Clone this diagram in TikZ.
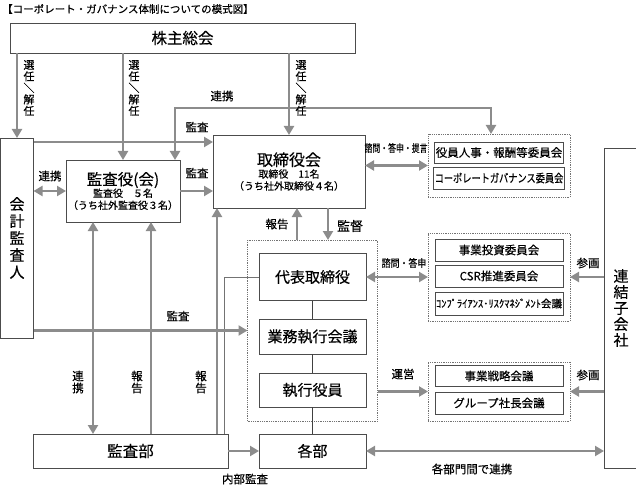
\documentclass[tikz,border=0pt]{standalone}
\usepackage{fontspec}
\usepackage{graphicx}
\setmainfont{Noto Sans CJK JP}[FakeBold=0.35]
\usetikzlibrary{arrows.meta}
\newcommand{\jfs}[2]{\fontsize{#1}{#2}\selectfont}
\newcommand{\vsl}{\rotatebox[origin=c]{90}{／}}

\begin{document}
\begin{tikzpicture}[x=1pt,y=-1pt,
   box/.style={draw=black!70,line width=.8pt,fill=white,inner sep=1pt,outer sep=0pt,align=center},
   dbox/.style={draw=black!55,densely dotted,line width=.8pt,inner sep=0pt,outer sep=0pt},
   cbox/.style={box,minimum width=128pt,font=\jfs{11.5}{12}},
   ebox/.style={box,minimum width=107pt,font=\jfs{15}{16}},
   arr/.style={draw=black!45,line width=2.2pt,-{Triangle[length=9pt,width=10pt]}},
   darr/.style={arr,{Triangle[length=9pt,width=10pt]}-{Triangle[length=9pt,width=10pt]}},
   ln/.style={draw=black!55,line width=1pt},
   lbl/.style={font=\jfs{11.5}{12},inner sep=0pt},
   vlbl/.style={lbl,align=center}]
   \useasboundingbox (0,0) rectangle (636,486);

   \node[lbl,anchor=west,font=\jfs{10.5}{11}] (title) at (2,9) {【コーポレート・ガバナンス体制についての模式図】};

   \node[box,minimum width=345pt,minimum height=30pt,font=\jfs{15.5}{16}] (kabu) at (182.5,38) {株主総会};
   \node[box,minimum width=33pt,minimum height=200pt,font=\jfs{15}{17}] (kaikei) at (17,238) {会\\計\\監\\査\\人};
   \node[box,minimum width=114pt,minimum height=62pt] (kansayaku) at (123,191)
      {{\jfs{15.5}{18}監査役(会)}\\{\jfs{10}{13}監査役　５名}\\{\jfs{10}{12}（うち社外監査役３名）}};
   \node[box,minimum width=152pt,minimum height=73pt] (torishimari) at (289,171.5)
      {{\jfs{16}{19}取締役会}\\{\jfs{10}{13}取締役　11名}\\{\jfs{10}{12}（うち社外取締役４名）}};

   \node[dbox,minimum width=142pt,minimum height=63pt] (dashed1) at (499,165.5) {};
   \node[cbox,minimum height=21pt] (iin1) at (499,152.5) {役員人事・報酬等委員会};
   \node[cbox,minimum height=22pt] (iin2) at (499,178) {\scalebox{0.8}[1]{コーポレートガバナンス委員会}};

   \node[dbox,minimum width=130pt,minimum height=181pt] (execbox) at (312.5,330.5) {};
   \node[ebox,minimum height=47pt] (daihyo) at (312.5,277) {代表取締役};
   \node[ebox,minimum height=35pt] (gyomu) at (312.5,336.5) {業務執行会議};
   \node[ebox,minimum height=34pt] (shikko) at (312.5,390) {執行役員};
   \node[ebox,minimum height=34pt] (kakubu) at (312.5,451) {各部};
   \node[box,minimum width=195pt,minimum height=34pt,font=\jfs{15.5}{16}] (kansabu) at (130.5,451) {監査部};

   \node[dbox,minimum width=142pt,minimum height=88pt] (dashed2) at (499,277) {};
   \node[cbox,minimum height=22pt] (jigyo) at (499,250) {事業投資委員会};
   \node[cbox,minimum height=22pt] (csr) at (499,276) {CSR推進委員会};
   \node[cbox,minimum height=23pt] (comp) at (499,303.5) {\jfs{10.5}{11}ｺﾝﾌﾟﾗｲｱﾝｽ･ﾘｽｸﾏﾈｼﾞﾒﾝﾄ会議};

   \node[dbox,minimum width=142pt,minimum height=59pt] (dashed3) at (499,391.5) {};
   \node[cbox,minimum height=21pt] (senryaku) at (499,376) {事業戦略会議};
   \node[cbox,minimum height=22pt] (group) at (499,403) {グループ社長会議};

   \node[box,minimum width=34pt,minimum height=320pt,font=\jfs{15}{16}] (renketsu) at (621,308) {連\\結\\子\\会\\社};

   \coordinate (kx1) at (175,108);
   \coordinate (kx2) at (491,108);
   \coordinate (ka1) at (0,142);
   \coordinate (hk) at (297,0);
   \coordinate (kt) at (328,0);
   \coordinate (ra) at (93,0);
   \coordinate (hb1) at (151,0);
   \coordinate (hb2) at (217,0);
   \coordinate (ln1) at (224,0);

   \draw[arr] (kabu.south -| kaikei.north) -- (kaikei.north);
   \draw[arr] (kabu.south -| kansayaku.north) -- (kansayaku.north);
   \draw[arr] (kabu.south -| torishimari.north) -- (torishimari.north);
   \draw[darr] (kansayaku.north -| kx1) |- (kx2) -- (dashed1.north -| kx2);
   \draw[arr] (kaikei.east |- ka1) -- (torishimari.west |- ka1);
   \draw[darr] (kaikei.east |- kansayaku.west) -- (kansayaku.west);
   \draw[arr] (kansayaku.east) -- (kansayaku.east -| torishimari.west);
   \draw[darr] (torishimari.east |- dashed1.west) -- (dashed1.west);
   \draw[arr] (execbox.north -| hk) -- (torishimari.south -| hk);
   \draw[arr] (torishimari.south -| kt) -- (execbox.north -| kt);
   \draw[darr] (kansabu.north -| ra) -- (kansayaku.south -| ra);
   \draw[arr] (kansabu.north -| hb1) -- (kansayaku.south -| hb1);
   \draw[arr] (kansabu.north -| hb2) -- (torishimari.south -| hb2);
   \draw[ln] (daihyo.west) -| (kansabu.north -| ln1);
   \draw[arr] (kaikei.east |- execbox.west) -- (execbox.west);
   \draw[ln,draw=black!75] (daihyo) -- (gyomu);
   \draw[ln,draw=black!75] (gyomu) -- (shikko);
   \draw[ln,draw=black!75] (shikko) -- (kakubu);
   \draw[darr] (daihyo.east) -- (daihyo.east -| dashed2.west);
   \draw[arr] (renketsu.west |- dashed2.east) -- (dashed2.east);
   \draw[arr] (execbox.east |- dashed3.west) -- (dashed3.west);
   \draw[arr] (renketsu.west |- dashed3.east) -- (dashed3.east);
   \draw[darr] (kakubu.east) -- (kakubu.east -| renketsu.west);
   \draw[arr] (kansabu.east) -- (kakubu.west);

   % labels
   \node[vlbl,font=\jfs{11}{11.5}] (sen1) at (29,88) {選\\任\\\vsl\\解\\任};
   \node[vlbl,font=\jfs{11}{11.5}] (sen2) at (134,88) {選\\任\\\vsl\\解\\任};
   \node[vlbl,font=\jfs{11}{11.5}] (sen3) at (301,88) {選\\任\\\vsl\\解\\任};
   \node[lbl] (renkei1) at (222,96) {連携};
   \node[lbl] (kansa1) at (197,127) {監査};
   \node[lbl] (renkei2) at (50,176) {連携};
   \node[lbl] (kansa2) at (197,173) {監査};
   \node[lbl] (hokoku1) at (277,224) {報告};
   \node[lbl,font=\jfs{13}{13}] (kantoku) at (350,226) {監督};
   \node[lbl] (shimon1) at (396,148) {\scalebox{0.75}[1]{\jfs{10.5}{11}諮問・答申・提言}};
   \node[lbl] (kansa3) at (178,316) {監査};
   \node[vlbl] (renkei3) at (78,382) {連\\携};
   \node[vlbl] (hokoku2) at (137,382) {報\\告};
   \node[vlbl] (hokoku3) at (201,382) {報\\告};
   \node[lbl] (shimon2) at (404,263) {\scalebox{0.85}[1]{\jfs{10.5}{11}諮問・答申}};
   \node[lbl] (sankaku1) at (588,263) {参画};
   \node[lbl] (unei) at (403,374) {運営};
   \node[lbl] (sankaku2) at (588,375) {参画};
   \node[lbl] (naibu) at (245,479) {内部監査};
   \node[lbl] (kakubumon) at (472,469) {各部門間で連携};
\end{tikzpicture}
\end{document}
